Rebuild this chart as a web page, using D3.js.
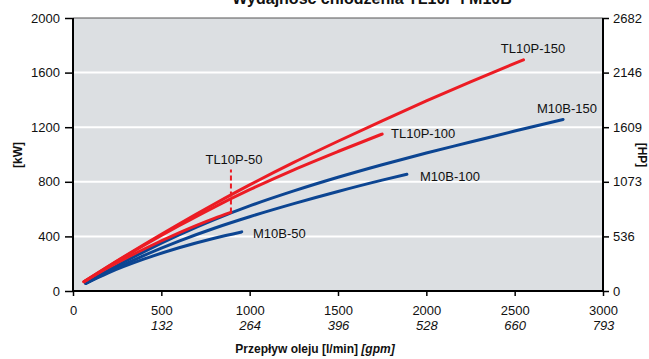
<!DOCTYPE html>
<html><head><meta charset="utf-8">
<script src="https://cdn.jsdelivr.net/npm/d3@7"></script>
<style>body{margin:0;background:#fff}svg{display:block;font-family:"Liberation Sans",Arial,sans-serif}</style>
</head><body><svg id="c" width="649" height="359"></svg>
<script>
const title = "Wydajność chłodzenia TL10P i M10B";
const xTicks = [0, 500, 1000, 1500, 2000, 2500, 3000];
const xTicksGpm = ["", "132", "264", "396", "528", "660", "793"];
const yTicks = [0, 400, 800, 1200, 1600, 2000];
const yTicksHp = ["0", "536", "1073", "1609", "2146", "2682"];

const tl150X = [62, 200, 400, 600, 800, 1000, 1250, 1500, 1750, 2000, 2250, 2550];
const tl150Y = [68, 181, 339, 491, 637, 777, 942, 1097, 1247, 1392, 1532, 1694];
const tl100X = [62, 200, 400, 600, 800, 1000, 1250, 1500, 1750];
const tl100Y = [68, 180, 333, 478, 615, 742, 888, 1022, 1150];
const tl50X = [62, 200, 400, 600, 800, 894];
const tl50Y = [68, 172, 306, 426, 532, 576];
const m150X = [72, 200, 400, 600, 800, 1000, 1250, 1500, 1750, 2000, 2250, 2500, 2774];
const m150Y = [56, 151, 287, 411, 523, 623, 733, 833, 925, 1011, 1091, 1172, 1257];
const m100X = [72, 200, 400, 600, 800, 1000, 1250, 1500, 1750, 1890];
const m100Y = [56, 140, 260, 366, 460, 544, 640, 729, 812, 855];
const m50X = [72, 200, 400, 600, 800, 955];
const m50Y = [56, 133, 233, 317, 387, 433];
const tl50Marker = [894, 576, 890];

const RED = "#ec1c24", BLUE = "#0c4592";
const series = [
  {name:"TL10P-150", xs:tl150X, ys:tl150Y, color:RED, lx:533, ly:53, anchor:"middle"},
  {name:"TL10P-100", xs:tl100X, ys:tl100Y, color:RED, lx:391, ly:138, anchor:"start"},
  {name:"TL10P-50", xs:tl50X, ys:tl50Y, color:RED, lx:234, ly:164, anchor:"middle"},
  {name:"M10B-150", xs:m150X, ys:m150Y, color:BLUE, lx:567, ly:113, anchor:"middle"},
  {name:"M10B-100", xs:m100X, ys:m100Y, color:BLUE, lx:420, ly:181, anchor:"start"},
  {name:"M10B-50", xs:m50X, ys:m50Y, color:BLUE, lx:253, ly:238, anchor:"start"}
];

const L = 73, R = 603, T = 18, B = 291;
const x = d3.scaleLinear().domain([0, 3000]).range([L, R]);
const y = d3.scaleLinear().domain([0, 2000]).range([B, T]);
const svg = d3.select("#c");

svg.append("rect").attr("x", L).attr("y", T).attr("width", R-L).attr("height", B-T).attr("fill", "#dcdfe2");
svg.append("g").selectAll("line").data(yTicks.filter(d => d > 0 && d < 2000)).join("line")
  .attr("x1", L).attr("x2", R).attr("y1", d => y(d)).attr("y2", d => y(d))
  .attr("stroke", "#fff").attr("stroke-width", 2);
svg.append("line").attr("x1", L).attr("x2", R).attr("y1", T).attr("y2", T).attr("stroke", "#555").attr("stroke-width", 1);

const line = d3.line().curve(d3.curveMonotoneX);
const order = [3,4,5,0,1,2];
order.forEach(i => {
  const s = series[i];
  const pts = s.xs.map((v, k) => [x(v), y(s.ys[k])]);
  svg.append("path").attr("d", line(pts)).attr("fill", "none").attr("stroke", s.color)
    .attr("stroke-width", 3).attr("stroke-linecap", "round");
});
svg.append("line").attr("x1", x(tl50Marker[0])).attr("x2", x(tl50Marker[0]))
  .attr("y1", y(tl50Marker[1])).attr("y2", y(tl50Marker[2]))
  .attr("stroke", RED).attr("stroke-width", 2).attr("stroke-dasharray", "5,3");

series.forEach(s => {
  svg.append("text").attr("x", s.lx).attr("y", s.ly).attr("text-anchor", s.anchor)
    .attr("font-size", 13).attr("fill", "#111").text(s.name);
});

const ax = svg.append("g").attr("transform", `translate(0,${B})`)
  .call(d3.axisBottom(x).tickValues(xTicks).tickSize(5).tickPadding(10).tickFormat(d3.format("d")));
ax.selectAll(".tick text").attr("font-size", 13).attr("fill", "#111").attr("font-family", "Liberation Sans, Arial, sans-serif");
ax.selectAll(".tick").append("text").attr("y", 39).attr("fill", "#111").attr("font-size", 13)
  .attr("font-style", "italic").attr("text-anchor", "middle").attr("font-family", "Liberation Sans, Arial, sans-serif")
  .text((d, i) => xTicksGpm[i]);

const ayl = svg.append("g").attr("transform", `translate(${L},0)`)
  .call(d3.axisLeft(y).tickValues(yTicks).tickSize(8).tickPadding(5).tickFormat(d3.format("d")));
ayl.selectAll(".tick text").attr("font-size", 13).attr("fill", "#111").attr("font-family", "Liberation Sans, Arial, sans-serif");

const ayr = svg.append("g").attr("transform", `translate(${R},0)`)
  .call(d3.axisRight(y).tickValues(yTicks).tickSize(6).tickPadding(4).tickFormat((d, i) => yTicksHp[i]));
ayr.selectAll(".tick text").attr("font-size", 13).attr("fill", "#111").attr("font-family", "Liberation Sans, Arial, sans-serif");

[ax, ayl, ayr].forEach(g => {
  g.select(".domain").attr("stroke", "#000").attr("stroke-width", 2);
  g.selectAll(".tick line").attr("stroke", "#000").attr("stroke-width", 1.5);
});
ax.select(".domain").attr("d", `M${L},0H${R}`);
ayl.select(".domain").attr("d", `M0,${B}V${T}`);
ayr.select(".domain").attr("d", `M0,${B}V${T}`);

const xt = svg.append("text").attr("x", 315).attr("y", 353).attr("text-anchor", "middle")
  .attr("font-size", 12).attr("font-weight", "bold").attr("fill", "#111");
xt.append("tspan").text("Przepływ oleju [l/min] ");
xt.append("tspan").attr("font-style", "italic").text("[gpm]");

svg.append("text").attr("transform", "translate(22,155) rotate(-90)").attr("text-anchor", "middle")
  .attr("font-size", 12).attr("font-weight", "bold").attr("fill", "#111").text("[kW]");
svg.append("text").attr("transform", "translate(638,155) rotate(90)").attr("text-anchor", "middle")
  .attr("font-size", 12).attr("font-weight", "bold").attr("fill", "#111").text("[HP]");

svg.append("text").attr("x", 372).attr("y", 4).attr("text-anchor", "middle")
  .attr("font-size", 16).attr("font-weight", "bold").attr("fill", "#111").text(title);
</script></body></html>
